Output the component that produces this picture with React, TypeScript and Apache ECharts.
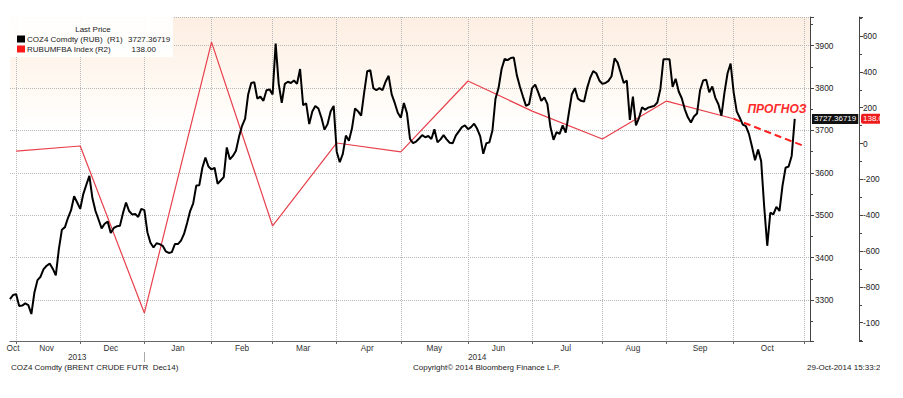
import React, { useEffect, useRef } from 'react';
import * as echarts from 'echarts';

// ---------- data ----------
const HOLIDAYS = ['2013-12-25', '2014-01-01', '2014-04-18'];
const FIRST_DAY = '2013-10-30';
const LAST_AXIS_DAY = '2014-11-05';
const MONTH_NAMES = ['Jan', 'Feb', 'Mar', 'Apr', 'May', 'Jun', 'Jul', 'Aug', 'Sep', 'Oct', 'Nov', 'Dec'];
const LABELLED_MONTHS = ['2013-10', '2013-11', '2013-12', '2014-01', '2014-02', '2014-03', '2014-04', '2014-05', '2014-06', '2014-07', '2014-08', '2014-09', '2014-10'];
const YEARS = ['2013', '2014'];

// COZ4 Comdty (RUB), one close per trading day from 30-Oct-2013 to 29-Oct-2014
const cozPrices = [
  3302, 3312, 3314, 3286, 3287, 3292, 3288, 3267, 3318, 3347,
  3355, 3373, 3381, 3386, 3374, 3358, 3420, 3466, 3472, 3494,
  3512, 3545, 3530, 3515, 3550, 3572, 3593, 3540, 3510, 3490,
  3469, 3480, 3485, 3458, 3470, 3474, 3475, 3505, 3530, 3510,
  3502, 3503, 3496, 3515, 3512, 3460, 3435, 3424, 3434, 3432,
  3428, 3415, 3411, 3413, 3432, 3432, 3440, 3456, 3482, 3510,
  3528, 3570, 3571, 3612, 3636, 3615, 3608, 3612, 3574, 3582,
  3590, 3660, 3632, 3640, 3652, 3685, 3711, 3728, 3785, 3812,
  3814, 3775, 3780, 3770, 3795, 3797, 3785, 3905, 3810, 3765,
  3810, 3815, 3812, 3818, 3810, 3845, 3760, 3764, 3715, 3745,
  3758, 3752, 3730, 3702, 3715, 3745, 3758, 3650, 3625, 3645,
  3688, 3676, 3705, 3752, 3745, 3735, 3790, 3840, 3842, 3800,
  3795, 3800, 3795, 3815, 3829, 3785, 3765, 3742, 3730, 3765,
  3741, 3680, 3670, 3674, 3681, 3689, 3684, 3687, 3680, 3703,
  3672, 3679, 3689, 3679, 3671, 3670, 3688, 3698, 3708, 3712,
  3703, 3708, 3716, 3704, 3686, 3645, 3670, 3672, 3700, 3775,
  3800, 3845, 3869, 3866, 3871, 3872, 3830, 3803, 3780, 3758,
  3762, 3800, 3808, 3790, 3770, 3778, 3762, 3708, 3678, 3696,
  3692, 3712, 3695, 3740, 3785, 3800, 3775, 3770, 3768, 3800,
  3824, 3840, 3835, 3818, 3810, 3812, 3817, 3828, 3870, 3860,
  3836, 3812, 3818, 3725, 3780, 3712, 3730, 3755, 3749, 3754,
  3756, 3758, 3766, 3798, 3868, 3868, 3868, 3803, 3822, 3792,
  3776, 3750, 3731, 3719, 3733, 3740, 3795, 3818, 3820, 3790,
  3804, 3777, 3762, 3735, 3790, 3835, 3858, 3790, 3745, 3730,
  3714, 3710, 3692, 3662, 3630, 3655, 3628, 3520, 3428, 3506,
  3502, 3520, 3510, 3570, 3612, 3615, 3640, 3727.36719,
];

// RUBUMFBA Index (R2), monthly prints placed on the first trading day of each month
const rubMonths = ['2013-11', '2013-12', '2014-01', '2014-02', '2014-03', '2014-04', '2014-05', '2014-06', '2014-07', '2014-08', '2014-09', '2014-10'];
const rubValues = [-42, -14, -946, 566, -460, 3, -47, 349, 181, 25, 237, 138];
// forecast ("ПРОГНОЗ") segment
const forecastMonths = ['2014-10', '2014-11'];
const forecastValues = [138, -14];

// ---------- helpers ----------
function tradingDays(start: string, end: string, holidays: string[]): string[] {
  const out: string[] = [];
  const d = new Date(start + 'T00:00:00Z');
  const e = new Date(end + 'T00:00:00Z');
  while (d.getTime() <= e.getTime()) {
    const dow = d.getUTCDay();
    const s = d.toISOString().slice(0, 10);
    if (dow !== 0 && dow !== 6 && holidays.indexOf(s) < 0) out.push(s);
    d.setUTCDate(d.getUTCDate() + 1);
  }
  return out;
}

const FONT = '"Liberation Sans", Arial, sans-serif';

export default function App() {
  const ref = useRef<HTMLDivElement>(null);

  useEffect(() => {
    if (!ref.current) return;
    const chart = echarts.init(ref.current, undefined, { renderer: 'svg' });

    const dates = tradingDays(FIRST_DAY, LAST_AXIS_DAY, HOLIDAYS);
    const ym = (i: number) => dates[i].slice(0, 7);

    const firstIdx: Record<string, number> = {};
    dates.forEach((d, i) => {
      const k = d.slice(0, 7);
      if (firstIdx[k] === undefined) firstIdx[k] = i;
    });
    const monthStartSet = new Set<number>();
    for (let i = 1; i < dates.length; i++) if (ym(i) !== ym(i - 1)) monthStartSet.add(i);

    const monthLabelAt = new Map<number, string>();
    LABELLED_MONTHS.forEach((m, k) => {
      const s = firstIdx[m];
      let next = dates.length - 1;
      if (k + 1 < LABELLED_MONTHS.length) next = firstIdx[LABELLED_MONTHS[k + 1]];
      else {
        for (let i = s; i < dates.length; i++) if (dates[i].slice(0, 7) !== m) { next = i; break; }
      }
      monthLabelAt.set(Math.floor((s + next) / 2), MONTH_NAMES[parseInt(m.slice(5, 7), 10) - 1]);
    });

    const yearStart: Record<string, number> = {};
    dates.forEach((d, i) => {
      const y = d.slice(0, 4);
      if (yearStart[y] === undefined) yearStart[y] = i;
    });
    const yearLabelAt = new Map<number, string>();
    YEARS.forEach((y, k) => {
      const s = yearStart[y];
      const e = k + 1 < YEARS.length ? yearStart[YEARS[k + 1]] : dates.length - 1;
      yearLabelAt.set(Math.floor((s + e) / 2), y);
    });
    const yearSepIdx = yearStart['2014'];

    const rubData: (number | null)[] = dates.map(() => null);
    rubMonths.forEach((m, k) => { rubData[firstIdx[m]] = rubValues[k]; });
    const fcData: (number | null)[] = dates.map(() => null);
    forecastMonths.forEach((m, k) => { fcData[firstIdx[m]] = forecastValues[k]; });

    const lastPrice = cozPrices[cozPrices.length - 1];
    const lastRub = rubValues[rubValues.length - 1];

    const txt = (text: string, x: number, y: number, extra: any = {}) => ({
      type: 'text',
      x, y,
      z: 100,
      style: { text, fill: '#222', font: `8px ${FONT}`, align: 'left', verticalAlign: 'middle', ...extra },
    });

    const option: any = {
      animation: false,
      textStyle: { fontFamily: FONT },
      grid: {
        left: 10, right: 93, top: 17, bottom: 57,
        show: true, borderWidth: 0,
        backgroundColor: new echarts.graphic.LinearGradient(0, 0, 0, 1, [
          { offset: 0, color: '#fdeee2' },
          { offset: 0.08, color: '#fdf2e8' },
          { offset: 0.17, color: '#fef7ef' },
          { offset: 0.26, color: '#fffbf6' },
          { offset: 0.34, color: '#ffffff' },
          { offset: 1, color: '#ffffff' },
        ]),
      },
      xAxis: [
        {
          type: 'category',
          data: dates,
          boundaryGap: false,
          axisLine: { onZero: false, lineStyle: { color: '#666', width: 1 } },
          axisTick: { show: true, length: 3, interval: (i: number) => monthStartSet.has(i), lineStyle: { color: '#666' } },
          axisLabel: {
            interval: (i: number) => monthLabelAt.has(i),
            formatter: (_v: string, i: number) => monthLabelAt.get(i) || '',
            margin: 3, fontSize: 8.3, color: '#333', fontFamily: FONT,
          },
          splitLine: { show: true, interval: (i: number) => monthStartSet.has(i), lineStyle: { type: 'dotted', color: '#b8b8b8' } },
        },
        {
          type: 'category',
          data: dates,
          boundaryGap: false,
          position: 'bottom',
          offset: 11,
          axisLine: { show: false, onZero: false },
          axisTick: { show: true, length: 10, interval: (i: number) => i === yearSepIdx, lineStyle: { color: '#aaa' } },
          axisLabel: {
            interval: (i: number) => yearLabelAt.has(i),
            formatter: (_v: string, i: number) => yearLabelAt.get(i) || '',
            margin: 1, fontSize: 8.3, color: '#333', fontFamily: FONT,
          },
          splitLine: { show: false },
        },
      ],
      yAxis: [
        {
          type: 'value',
          position: 'right',
          min: 3203.4, max: 3967.7, splitNumber: 8,
          axisLine: { show: true, lineStyle: { color: '#444' } },
          axisTick: { show: true, length: 4, lineStyle: { color: '#444' } },
          minorTick: { show: true, splitNumber: 2, length: 3, lineStyle: { color: '#444' } },
          axisLabel: { showMinLabel: false, showMaxLabel: false, margin: 5, fontSize: 8.3, color: '#222', formatter: (v: number) => String(v), fontFamily: FONT },
          splitLine: { show: true, lineStyle: { type: 'dotted', color: '#b8b8b8' } },
          axisPointer: {
            show: true, type: 'none', value: lastPrice, status: 'show', triggerTooltip: false,
            label: { show: true, formatter: () => lastPrice.toFixed(5), backgroundColor: '#111', color: '#fff', padding: [1, 2, 1, 2], fontSize: 8, margin: 2, borderRadius: 0, fontFamily: FONT },
          },
        },
        {
          type: 'value',
          position: 'right',
          offset: 49,
          min: -1102, max: 706, splitNumber: 9,
          axisLine: { show: true, lineStyle: { color: '#444' } },
          axisTick: { show: true, length: 4, lineStyle: { color: '#444' } },
          minorTick: { show: true, splitNumber: 2, length: 3, lineStyle: { color: '#444' } },
          axisLabel: {
            showMinLabel: false, showMaxLabel: false, margin: 4, fontSize: 8.3, color: '#222', fontFamily: FONT,
            formatter: (v: number) => { const s = String(v); return s.length > 4 ? s.slice(0, 4) : s; },
          },
          splitLine: { show: false },
          axisPointer: {
            show: true, type: 'none', value: lastRub, status: 'show', triggerTooltip: false,
            label: { show: true, formatter: () => lastRub.toFixed(2), backgroundColor: '#ee1c1c', color: '#fff', padding: [1, 2, 1, 2], fontSize: 8, margin: 2, borderRadius: 2, fontFamily: FONT },
          },
        },
      ],
      series: [
        {
          name: 'RUBUMFBA Index',
          type: 'line', xAxisIndex: 0, yAxisIndex: 1,
          data: rubData, connectNulls: true, symbol: 'none', showSymbol: false,
          lineStyle: { color: '#e8404c', width: 1.2 },
          z: 2,
        },
        {
          name: 'forecast',
          type: 'line', xAxisIndex: 0, yAxisIndex: 1,
          data: fcData, connectNulls: true, symbol: 'none', showSymbol: false,
          lineStyle: { color: '#ff2222', width: 2, type: [7, 4] },
          z: 2,
        },
        {
          name: 'COZ4 Comdty (RUB)',
          type: 'line', xAxisIndex: 0, yAxisIndex: 0,
          data: cozPrices, symbol: 'none', showSymbol: false,
          lineStyle: { color: '#000', width: 2 },
          z: 3,
        },
      ],
      graphic: [
        { type: 'rect', z: 99, shape: { x: 10, y: 17, width: 163, height: 40 }, style: { fill: 'rgba(255,255,255,0.92)' } },
        txt('Last Price', 93, 29, { align: 'center' }),
        { type: 'rect', z: 100, shape: { x: 17, y: 35.5, width: 8, height: 7 }, style: { fill: '#000' } },
        txt('COZ4 Comdty (RUB)', 27, 39),
        txt('(R1)', 107, 39),
        txt(lastPrice.toFixed(5), 128, 39),
        { type: 'rect', z: 100, shape: { x: 17, y: 45.5, width: 8, height: 7 }, style: { fill: '#ff1a1a' } },
        txt('RUBUMFBA Index', 27, 49),
        txt('(R2)', 95, 49),
        txt(lastRub.toFixed(2), 156, 49, { align: 'right' }),
        txt('ПРОГНОЗ', 777, 109, { align: 'center', fill: '#ff2a2a', font: `italic bold 12px ${FONT}` }),
        txt('COZ4 Comdty (BRENT CRUDE FUTR  Dec14)', 11, 367),
        txt('Copyright\u00a9 2014 Bloomberg Finance L.P.', 413, 367),
        txt('29-Oct-2014 15:33:2', 807, 367),
        // the original picture is cut at x = 880
        { type: 'rect', z: 5000, zlevel: 0, shape: { x: 880, y: 0, width: 23, height: 398 }, style: { fill: '#ffffff' } },
      ],
    };

    chart.setOption(option);
    return () => chart.dispose();
  }, []);

  return (
    <div
      ref={ref}
      style={{ position: 'fixed', left: 0, top: 0, width: 903, height: 398, overflow: 'hidden', background: '#fff' }}
    />
  );
}
